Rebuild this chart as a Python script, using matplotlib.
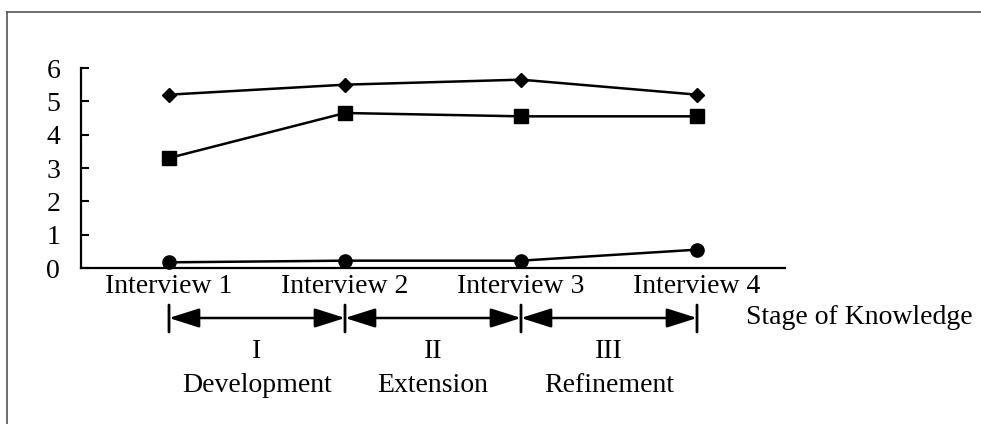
import matplotlib.pyplot as plt
from matplotlib.lines import Line2D

interviews = ["Interview 1", "Interview 2", "Interview 3", "Interview 4"]
diamond_series = [5.2, 5.5, 5.65, 5.2]
square_series = [3.3, 4.65, 4.55, 4.55]
circle_series = [0.17, 0.22, 0.22, 0.55]
stage_numerals = ["I", "II", "III"]
stage_names = ["Development", "Extension", "Refinement"]

plt.rcParams["font.family"] = ["Liberation Serif", "DejaVu Serif"]
FS = 20

W, H = 981, 424
fig = plt.figure(figsize=(W / 100, H / 100), dpi=100)
ax = fig.add_axes([81 / W, (H - 268) / H, (785 - 81) / W, (268 - 68) / H])

x = list(range(1, len(interviews) + 1))
line_kw = dict(color="black", lw=1.8, clip_on=False)
ax.plot(x, diamond_series, marker="D", ms=7.5, **line_kw)
ax.plot(x, square_series, marker="s", ms=10, **line_kw)
ax.plot(x, circle_series, marker="o", ms=9.5, **line_kw)

ax.set_xlim(0.5, 4.5)
ax.set_ylim(0, 6)
ax.set_yticks(range(0, 7))
ax.set_xticks(x, interviews)
ax.tick_params(axis="y", direction="in", length=6, width=1.5, pad=15, labelsize=FS)
ax.tick_params(axis="x", length=0, pad=4, labelsize=FS)
for side in ["top", "right"]:
    ax.spines[side].set_visible(False)
for side in ["left", "bottom"]:
    ax.spines[side].set_linewidth(1.6)

# stage arrows below the axis
arrow_y = (H - 318) / H
for i in range(len(stage_numerals)):
    ax.annotate("", xy=(x[i + 1], arrow_y), xytext=(x[i], arrow_y),
                xycoords=("data", "figure fraction"),
                textcoords=("data", "figure fraction"),
                arrowprops=dict(arrowstyle="<|-|>,head_length=1.1,head_width=0.35",
                                mutation_scale=17, color="black", lw=1.8,
                                shrinkA=0, shrinkB=0))
    mid = (x[i] + x[i + 1]) / 2
    ax.annotate(stage_numerals[i], xy=(mid, (H - 352) / H),
                xycoords=("data", "figure fraction"), ha="center", va="center",
                fontsize=FS)
    ax.annotate(stage_names[i], xy=(mid, (H - 385) / H),
                xycoords=("data", "figure fraction"), ha="center", va="center",
                fontsize=FS)
for xi in x:
    ax.annotate("", xy=(xi, (H - 305) / H), xytext=(xi, (H - 332) / H),
                xycoords=("data", "figure fraction"),
                textcoords=("data", "figure fraction"),
                arrowprops=dict(arrowstyle="-", color="black", lw=2,
                                shrinkA=0, shrinkB=0))
fig.text(746 / W, arrow_y, "Stage of Knowledge", ha="left", va="center", fontsize=FS)

# frame lines (top and left)
fig.add_artist(Line2D([7 / W, 1], [(H - 12) / H] * 2, color="#555555", lw=1.2))
fig.add_artist(Line2D([7 / W] * 2, [0, (H - 12) / H], color="#555555", lw=1.2))

fig.savefig("out.png", dpi=100)
